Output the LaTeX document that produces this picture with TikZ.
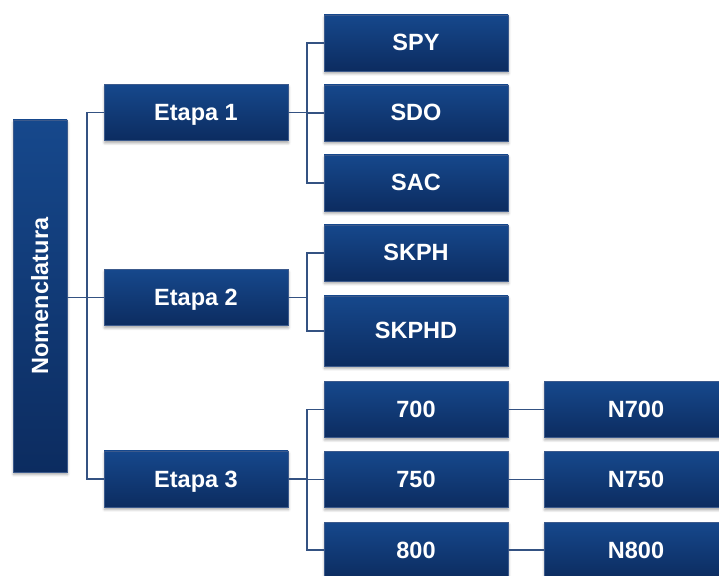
\documentclass[tikz,border=0pt]{standalone}
\usepackage{fontspec}
\setmainfont{Liberation Sans}
\usepackage{tikz}
\usetikzlibrary{shadows,shadows.blur}
\definecolor{boxtop}{RGB}{22,72,140}
\definecolor{boxbot}{RGB}{12,44,96}
\definecolor{boxedge}{RGB}{60,90,140}
\definecolor{linkcol}{RGB}{52,82,130}

\tikzset{
	bluebox/.style={rectangle,top color=boxtop,bottom color=boxbot,draw=boxedge,line width=0.4pt,
		minimum width=184pt,minimum height=56pt,inner sep=0pt,text=white,
		text height=16pt,text depth=0pt,
		font=\fontsize{23.5}{27}\selectfont\bfseries,
		blur shadow={shadow xshift=0.5pt,shadow yshift=-2.5pt,shadow blur radius=2.5pt,shadow opacity=35}},
	link/.style={draw=linkcol,line width=1.3pt}
}

\begin{document}
\begin{tikzpicture}[x=1pt,y=1pt]
	\useasboundingbox (0,0) rectangle (719,575);
	% root
	\node[bluebox,minimum width=352pt,minimum height=54pt,rotate=90] (nom) at (40,279) {Nomenclatura};
	% stages
	\node[bluebox] (e1) at (196,462.5) {Etapa 1};
	\node[bluebox] (e2) at (196,277.5) {Etapa 2};
	\node[bluebox] (e3) at (196,96) {Etapa 3};
	% children
	\node[bluebox] (spy) at (416,532) {SPY};
	\node[bluebox] (sdo) at (416,462) {SDO};
	\node[bluebox] (sac) at (416,392) {SAC};
	\node[bluebox] (skph) at (416,322) {SKPH};
	\node[bluebox,minimum height=70pt] (skphd) at (416,244) {SKPHD};
	\foreach \v/\y in {700/165.5,750/95.5,800/25}{
		\node[bluebox] (c\v) at (416,\y) {\v};
		\node[bluebox] (n\v) at (636,\y) {N\v};
	}
	% links
	\foreach \e in {e1,e2,e3}{
		\draw[link] (nom.south |- e2.west) -- (87,277.5) |- (\e.west);
	}
	\foreach \c in {spy,sdo,sac}{
		\draw[link] (e1.east) -- (307,462.5) |- (\c.west);
	}
	\foreach \c in {skph,skphd}{
		\draw[link] (e2.east) -- (307,277.5) |- (\c.west);
	}
	\foreach \v in {700,750,800}{
		\draw[link] (e3.east) -- (307,96) |- (c\v.west);
		\draw[link] (c\v.east) -- (n\v.west);
	}
\end{tikzpicture}
\end{document}
